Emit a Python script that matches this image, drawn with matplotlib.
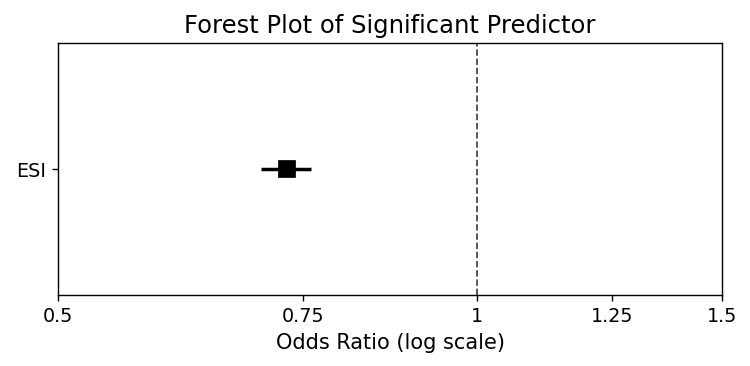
import numpy as np
import matplotlib
matplotlib.use("Agg")
import matplotlib.pyplot as plt
from matplotlib.ticker import FixedLocator, FixedFormatter, NullLocator

# Forest plot data
predictors = ['ESI']
odds_ratio = [0.73]
ci_lower = [0.70]
ci_upper = [0.76]
tick_values = [0.5, 0.75, 1, 1.25, 1.5]
tick_labels = ['0.5', '0.75', '1', '1.25', '1.5']

fig, ax = plt.subplots(figsize=(6, 2.928), dpi=125)
fig.subplots_adjust(left=0.0773, right=0.9627, top=0.8825, bottom=0.194)

y = np.arange(len(predictors))
or_arr = np.array(odds_ratio)
xerr = [or_arr - np.array(ci_lower), np.array(ci_upper) - or_arr]
ax.errorbar(or_arr, y, xerr=xerr, fmt='s', color='black', markersize=9,
            elinewidth=2, capsize=0)
ax.axvline(1, color='#444444', linestyle='--', linewidth=1)

ax.set_xscale('log')
ax.set_xlim(0.5, 1.5)
ax.xaxis.set_major_locator(FixedLocator(tick_values))
ax.xaxis.set_major_formatter(FixedFormatter(tick_labels))
ax.xaxis.set_minor_locator(NullLocator())
ax.set_yticks(y)
ax.set_yticklabels(predictors)
ax.set_ylim(-1, 1)
ax.tick_params(labelsize=11)
ax.set_xlabel('Odds Ratio (log scale)', fontsize=12)
ax.set_title('Forest Plot of Significant Predictor', fontsize=14)

plt.savefig('out.png')
plt.close()
